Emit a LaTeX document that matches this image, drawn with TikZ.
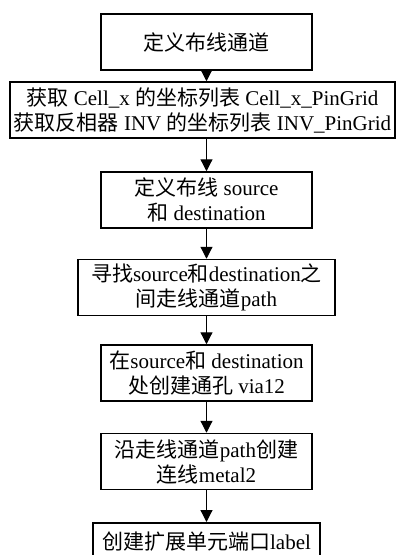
\documentclass[tikz,border=0pt]{standalone}
\usepackage{fontspec}
\setmainfont{Liberation Serif}
\newfontfamily\cjk{Noto Sans CJK SC}
\usepackage{tikz}
\usetikzlibrary{positioning,arrows.meta}
\newcommand{\zh}[1]{{\cjk #1}}

\begin{document}
\begin{tikzpicture}[x=1pt,y=-1pt,
    stepbox/.style={rectangle,draw,line width=1.5pt,minimum height=56pt,
                    inner sep=1pt,align=center,font=\fontsize{21}{25}\selectfont},
    arrow/.style={-{Triangle[length=12pt,width=12pt]},line width=1.2pt}
]
\useasboundingbox (0,0) rectangle (397,555);

\node[stepbox,minimum width=211pt] (define)  at (206.5,42)  {\zh{定义布线通道}};
\node[stepbox,minimum width=385pt] (grid)    at (202.5,110) {\zh{获取} Cell\_x \zh{的坐标列表} Cell\_x\_PinGrid\\
                                                            \zh{获取反相器} INV \zh{的坐标列表} INV\_PinGrid};
\node[stepbox,minimum width=211pt] (srcdst)  at (206.5,200) {\zh{定义布线} source\\\zh{和} destination};
\node[stepbox,minimum width=257pt] (path)    at (206.5,287.5) {\zh{寻找}source\zh{和}destination\zh{之}\\\zh{间走线通道}path};
\node[stepbox,minimum width=211pt] (via)     at (206.5,373) {\zh{在}source\zh{和} destination\\\zh{处创建通孔} via12};
\node[stepbox,minimum width=211pt] (metal)   at (206.5,461.5) {\zh{沿走线通道}path\zh{创建}\\\zh{连线}metal2};
\node[stepbox,minimum width=227pt,minimum height=38pt,anchor=north] (label) at (206.5,522) {\zh{创建扩展单元端口}label};

\draw[arrow] (define) -- (define |- grid.north);
\draw[arrow] (grid.south -| define) -- (srcdst);
\draw[arrow] (srcdst) -- (path);
\draw[arrow] (path) -- (via);
\draw[arrow] (via) -- (metal);
\draw[arrow] (metal) -- (label);
\end{tikzpicture}
\end{document}
